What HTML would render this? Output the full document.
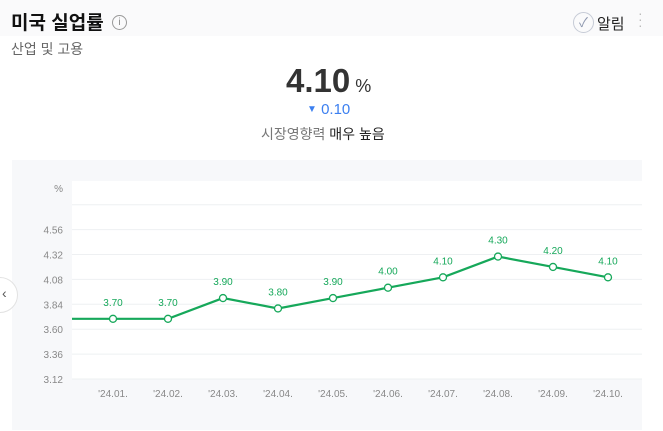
<!DOCTYPE html>
<html><head><meta charset="utf-8"><style>
body{margin:0;width:663px;height:431px;background:#fff;font-family:"Liberation Sans","Noto Sans CJK KR",sans-serif;position:relative;overflow:hidden}
.a{position:absolute;white-space:nowrap}
</style></head><body>
<div class="a" style="left:0;top:0;width:663px;height:36px;background:#fafafb"></div>
<div class="a" style="left:11px;top:8px;font-size:19px;font-weight:bold;color:#111">미국 실업률</div>
<div class="a" style="left:112px;top:15px;width:13px;height:13px;border:1px solid #999;border-radius:50%;font-size:10px;color:#888;text-align:center;line-height:13px">i</div>
<div class="a" style="left:573px;top:12px;width:19px;height:19px;border:1px solid #c6cbd6;border-radius:50%;color:#8c96ad;font-size:13px;text-align:center;line-height:19px">✓</div>
<div class="a" style="left:597px;top:13px;font-size:15px;color:#222">알림</div>
<div class="a" style="left:638px;top:10px;font-size:14px;color:#bbb;line-height:6px">·<br>·<br>·</div>
<div class="a" style="left:11px;top:39px;font-size:14px;color:#666">산업 및 고용</div>
<div class="a" style="left:286px;top:62px;font-size:33px;font-weight:bold;color:#333">4.10<span style="font-size:18px;font-weight:normal;margin-left:5px">%</span></div>
<div class="a" style="left:307px;top:101px;font-size:15px;color:#3b7ff0"><span style="font-size:10px;vertical-align:2px">▼</span> 0.10</div>
<div class="a" style="left:261px;top:124px;font-size:14px;color:#777">시장영향력 <span style="color:#222">매우 높음</span></div>
<div class="a" style="left:12px;top:160px;width:630px;height:270px;background:#f7f8fa"></div>
<svg class="a" style="left:0;top:0" width="663" height="431">
<g id="g"></g>
</svg>
<div class="a" style="left:-18px;top:277px;width:34px;height:34px;border:1px solid #e2e2e2;border-radius:50%;background:#fff"><span style="position:absolute;left:19px;top:7px;font-size:14px;color:#555">‹</span></div>
<script>
const categories=["'23.12.","'24.01.","'24.02.","'24.03.","'24.04.","'24.05.","'24.06.","'24.07.","'24.08.","'24.09.","'24.10."];
const values=[3.70,3.70,3.70,3.90,3.80,3.90,4.00,4.10,4.30,4.20,4.10];
const yTicks=[3.12,3.36,3.60,3.84,4.08,4.32,4.56];
const NS="http://www.w3.org/2000/svg";
const g=document.getElementById('g');
const x=i=>58+55*i;
const y=v=>379-(v-3.12)/0.24*24.9;
function el(t,a){const e=document.createElementNS(NS,t);for(const k in a)e.setAttribute(k,a[k]);g.appendChild(e);return e;}
let r=el('rect',{x:72,y:181,width:570,height:198,fill:'#fff'});


const cp=document.createElementNS(NS,'clipPath');cp.id='c';
const cr=document.createElementNS(NS,'rect');cr.setAttribute('x',72);cr.setAttribute('y',170);cr.setAttribute('width',570);cr.setAttribute('height',240);cp.appendChild(cr);g.appendChild(cp);
[...yTicks,4.80].forEach(v=>{
 const l=el('line',{x1:72,x2:642,y1:y(v),y2:y(v),stroke:'#eef0f2'});
 
 
});
yTicks.forEach(v=>{
 const t=el('text',{x:63,y:y(v)+4,'text-anchor':'end','font-size':10,fill:'#888'});t.textContent=v.toFixed(2);
 
 
});
const u=el('text',{x:63,y:192,'text-anchor':'end','font-size':10,fill:'#888'});u.textContent='%';


const cg=document.createElementNS(NS,'g');cg.setAttribute('clip-path','url(#c)');g.appendChild(cg);
const p=document.createElementNS(NS,'polyline');
p.setAttribute('points',values.map((v,i)=>x(i)+','+y(v)).join(' '));
p.setAttribute('fill','none');p.setAttribute('stroke','#16a85a');p.setAttribute('stroke-width','2.2');


cg.appendChild(p);
categories.forEach((c,i)=>{
 const t=document.createElementNS(NS,'text');
 t.setAttribute('x',x(i));t.setAttribute('y',397);t.setAttribute('text-anchor','middle');t.setAttribute('font-size',10);t.setAttribute('fill','#888');
 t.textContent=c;
 
 
 cg.appendChild(t);
 if(i===0)return;
 const d=el('circle',{cx:x(i),cy:y(values[i]),r:3.5,fill:'#fff',stroke:'#16a85a','stroke-width':1.3});
 
 
 const lb=el('text',{x:x(i),y:y(values[i])-13,'text-anchor':'middle','font-size':10,fill:'#16a85a'});lb.textContent=values[i].toFixed(2);
 
 
});
</script>
</body></html>
